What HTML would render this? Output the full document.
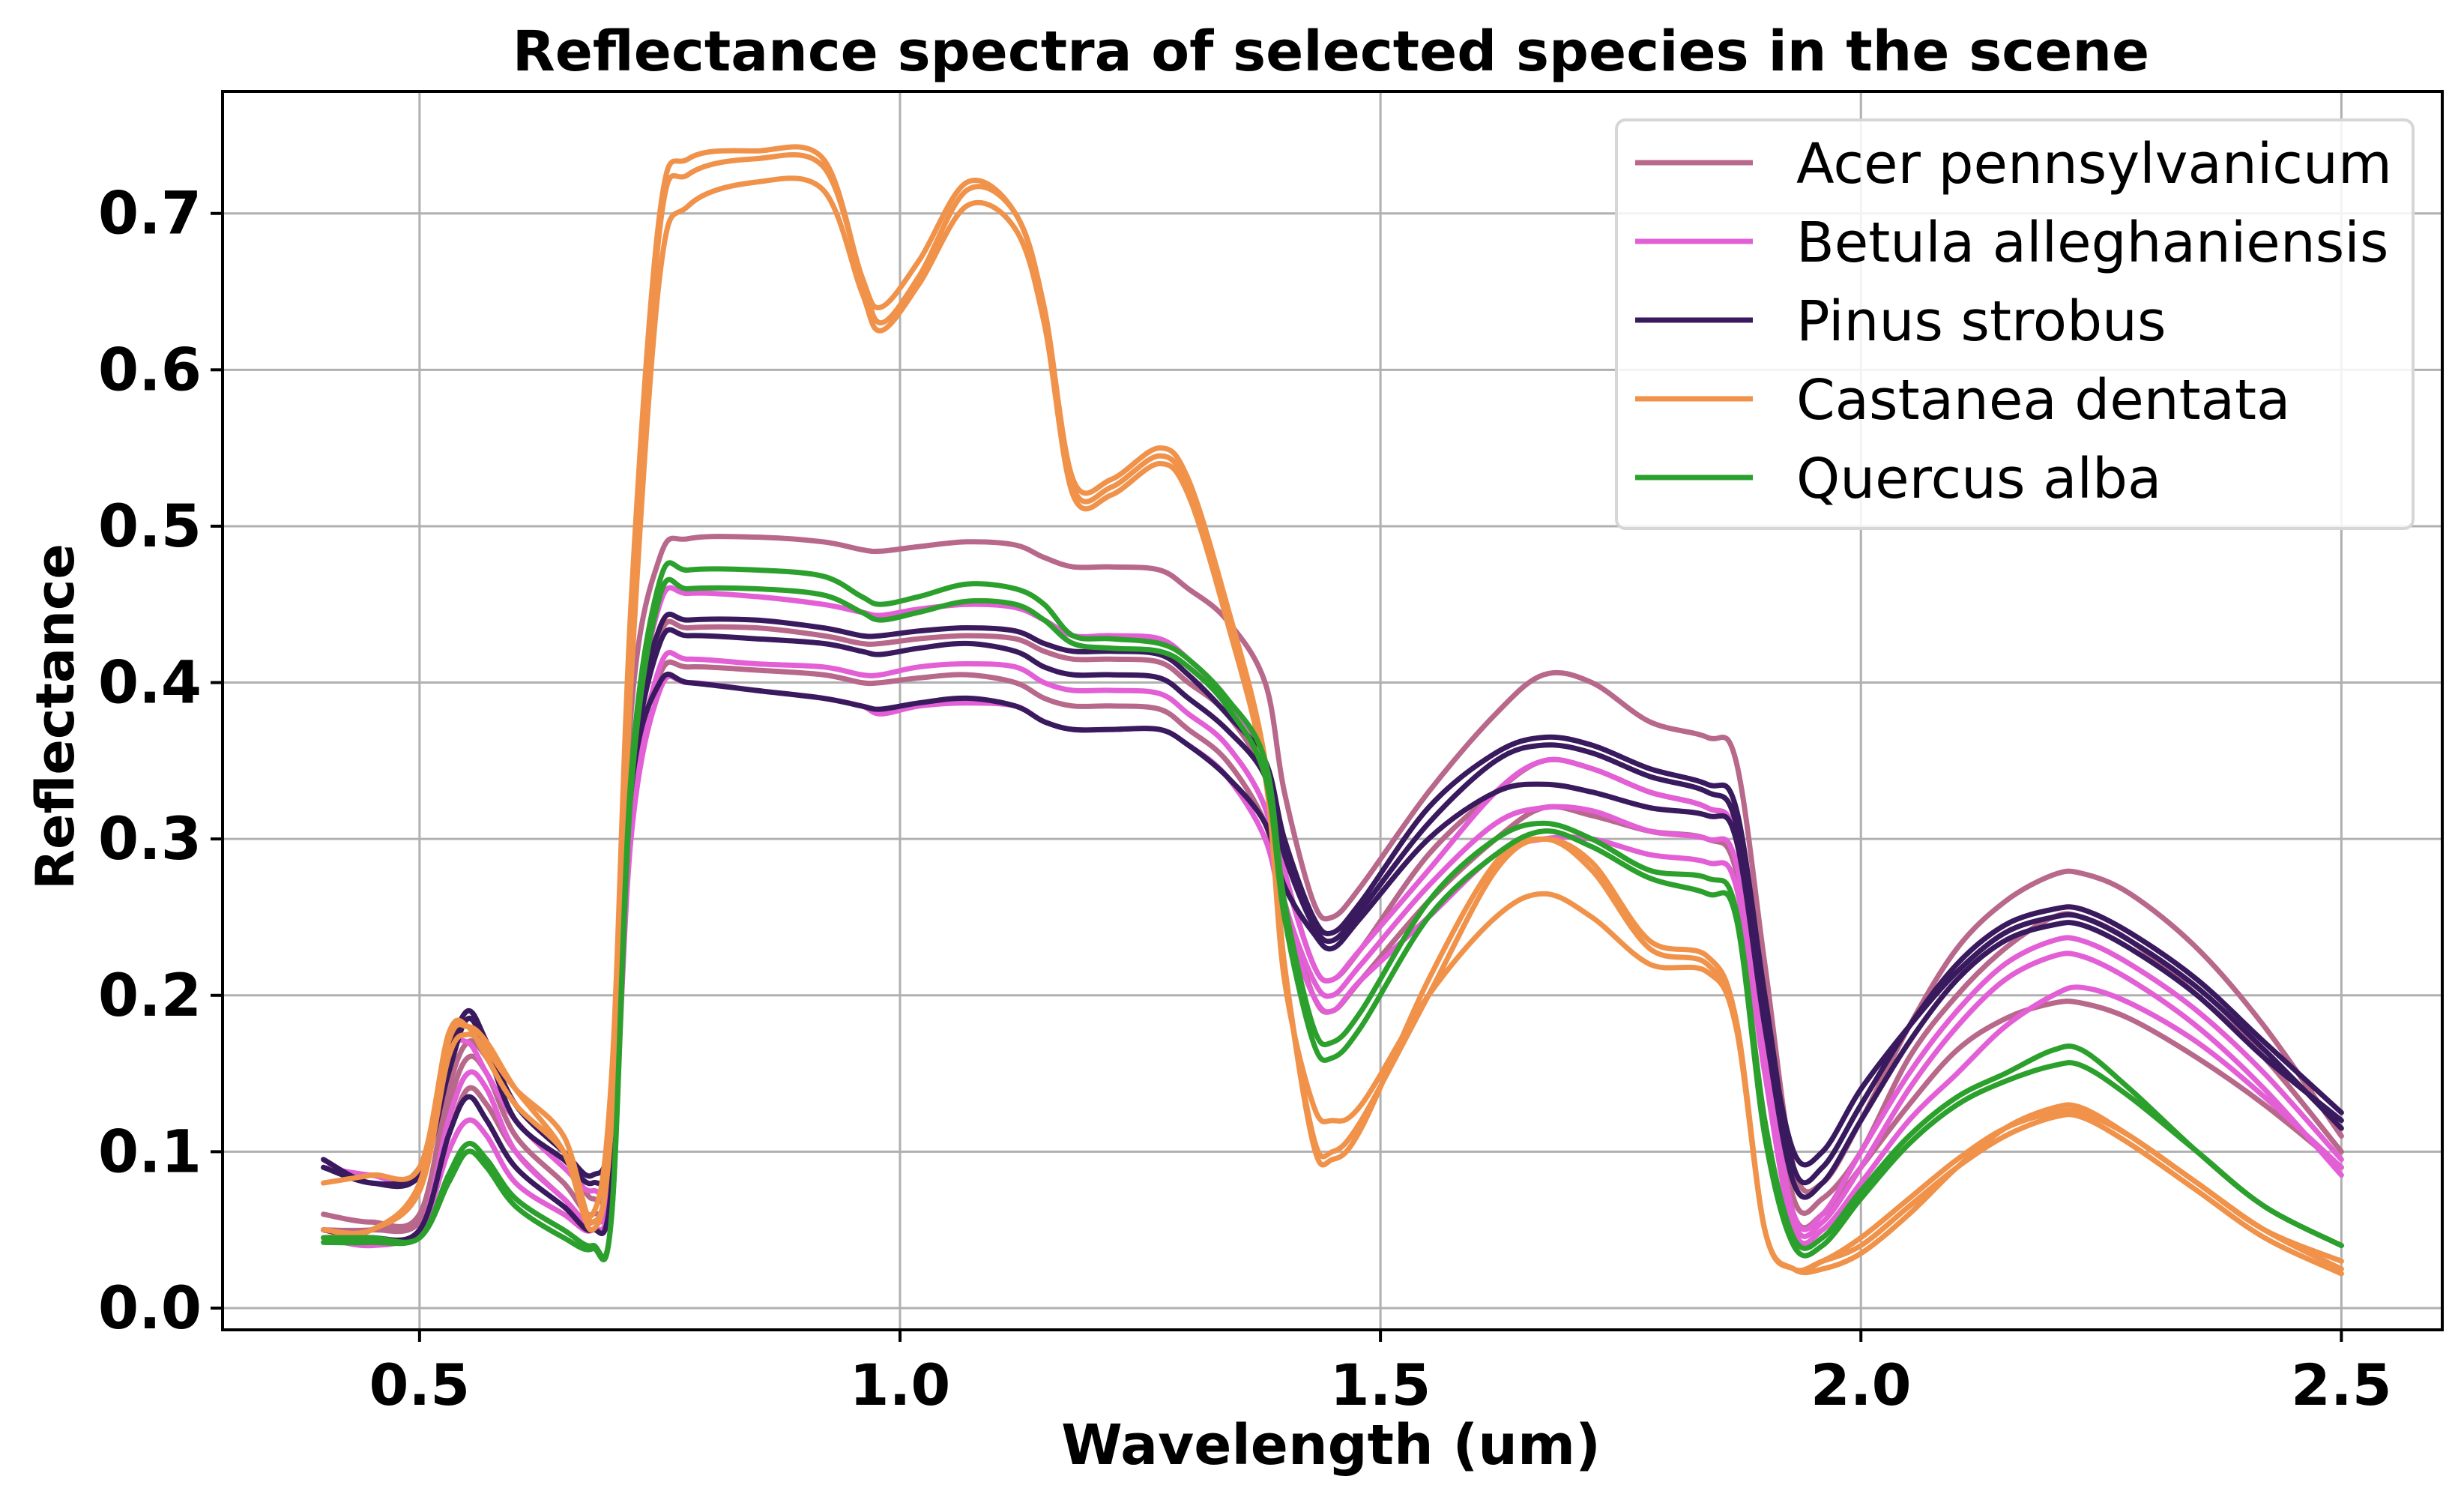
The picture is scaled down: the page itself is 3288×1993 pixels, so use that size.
<!DOCTYPE html>
<html><head><meta charset="utf-8"><style>
html,body{margin:0;padding:0;background:#fff;}
svg{display:block;font-family:"DejaVu Sans","Liberation Sans",sans-serif;}
</style></head><body>
<svg id="chart" width="3288" height="1993" viewBox="0 0 3288 1993" xmlns="http://www.w3.org/2000/svg">
<rect width="3288" height="1993" fill="#fff"/>
<g id="grid"></g>
<g id="series"></g>
<rect x="297" y="122" width="2962" height="1652" fill="none" stroke="#000" stroke-width="4"/>
<g id="ticks"></g>
<text x="1776" y="94" text-anchor="middle" font-size="74" font-weight="bold">Reflectance spectra of selected species in the scene</text>
<text x="1776" y="1953" text-anchor="middle" font-size="74" font-weight="bold">Wavelength (um)</text>
<text x="0" y="0" transform="translate(98,956) rotate(-90)" text-anchor="middle" font-size="70" font-weight="bold">Reflectance</text>
<g>
<rect x="2157" y="160" width="1063" height="545" rx="12" fill="#fff" fill-opacity="0.85" stroke="#d6d6d6" stroke-width="4"/>
<g id="legend-items"></g>
</g>
</svg>
<script>
const wavelengths=[0.40,0.45,0.50,0.53,0.55,0.57,0.60,0.65,0.68,0.70,0.72,0.75,0.78,0.85,0.92,0.96,0.98,1.02,1.07,1.12,1.15,1.18,1.22,1.27,1.30,1.34,1.38,1.40,1.43,1.45,1.48,1.55,1.62,1.67,1.72,1.78,1.84,1.87,1.90,1.93,1.96,2.00,2.05,2.10,2.15,2.20,2.23,2.28,2.35,2.42,2.50];
const speciesNames=["Acer pennsylvanicum","Betula alleghaniensis","Pinus strobus","Castanea dentata","Quercus alba"];
const xTicks=[0.5,1.0,1.5,2.0,2.5];
const xTickLabels=["0.5","1.0","1.5","2.0","2.5"];
const yTicks=[0.0,0.1,0.2,0.3,0.4,0.5,0.6,0.7];
const yTickLabels=["0.0","0.1","0.2","0.3","0.4","0.5","0.6","0.7"];
const acer1=[0.05,0.05,0.06,0.13,0.16,0.15,0.11,0.08,0.06,0.10,0.38,0.48,0.492,0.493,0.49,0.485,0.484,0.487,0.49,0.488,0.48,0.474,0.474,0.472,0.46,0.44,0.40,0.33,0.26,0.25,0.27,0.33,0.38,0.405,0.40,0.375,0.365,0.35,0.22,0.09,0.08,0.12,0.18,0.23,0.26,0.277,0.278,0.265,0.23,0.18,0.11];
const acer2=[0.06,0.055,0.06,0.14,0.17,0.16,0.13,0.10,0.07,0.10,0.33,0.43,0.435,0.435,0.43,0.425,0.425,0.428,0.43,0.428,0.42,0.415,0.415,0.413,0.40,0.38,0.34,0.28,0.22,0.21,0.23,0.29,0.33,0.35,0.345,0.33,0.32,0.30,0.18,0.07,0.07,0.10,0.16,0.20,0.23,0.25,0.25,0.235,0.20,0.16,0.10];
const acer3=[0.05,0.05,0.055,0.11,0.14,0.13,0.10,0.07,0.055,0.09,0.32,0.405,0.41,0.408,0.405,0.40,0.40,0.403,0.405,0.40,0.39,0.385,0.385,0.383,0.37,0.35,0.31,0.26,0.20,0.19,0.21,0.26,0.30,0.32,0.315,0.305,0.30,0.28,0.16,0.06,0.06,0.09,0.13,0.165,0.185,0.195,0.195,0.185,0.16,0.13,0.09];
const betula1=[0.045,0.04,0.05,0.10,0.12,0.11,0.08,0.06,0.05,0.08,0.30,0.395,0.40,0.395,0.39,0.385,0.38,0.385,0.387,0.385,0.375,0.37,0.37,0.37,0.36,0.34,0.30,0.25,0.20,0.19,0.21,0.25,0.29,0.30,0.30,0.29,0.285,0.27,0.15,0.05,0.05,0.08,0.12,0.15,0.18,0.20,0.205,0.195,0.17,0.135,0.09];
const betula2=[0.05,0.045,0.05,0.12,0.15,0.14,0.10,0.07,0.055,0.09,0.34,0.45,0.457,0.455,0.45,0.445,0.443,0.447,0.45,0.448,0.44,0.43,0.43,0.428,0.415,0.39,0.35,0.28,0.22,0.21,0.23,0.28,0.33,0.35,0.345,0.33,0.32,0.30,0.17,0.06,0.06,0.10,0.15,0.19,0.22,0.235,0.235,0.22,0.19,0.15,0.095];
const betula3=[0.09,0.085,0.085,0.16,0.17,0.15,0.12,0.09,0.075,0.10,0.31,0.41,0.415,0.412,0.41,0.405,0.405,0.41,0.412,0.41,0.40,0.395,0.395,0.393,0.38,0.36,0.32,0.26,0.21,0.20,0.22,0.27,0.31,0.32,0.318,0.305,0.30,0.285,0.16,0.055,0.055,0.09,0.14,0.18,0.21,0.225,0.225,0.21,0.18,0.14,0.085];
const pinus1=[0.095,0.08,0.09,0.16,0.19,0.17,0.13,0.10,0.085,0.12,0.33,0.40,0.40,0.395,0.39,0.385,0.383,0.387,0.39,0.385,0.375,0.37,0.37,0.37,0.36,0.34,0.31,0.27,0.24,0.23,0.25,0.30,0.33,0.335,0.33,0.32,0.315,0.30,0.18,0.08,0.08,0.12,0.17,0.21,0.235,0.245,0.245,0.23,0.20,0.16,0.12];
const pinus2=[0.05,0.045,0.05,0.11,0.135,0.12,0.09,0.065,0.05,0.08,0.34,0.435,0.44,0.44,0.435,0.43,0.43,0.433,0.435,0.433,0.425,0.42,0.42,0.418,0.405,0.38,0.35,0.30,0.25,0.24,0.26,0.32,0.355,0.365,0.36,0.345,0.335,0.32,0.20,0.09,0.09,0.13,0.18,0.22,0.245,0.255,0.255,0.24,0.21,0.17,0.125];
const pinus3=[0.09,0.08,0.085,0.15,0.185,0.165,0.12,0.095,0.08,0.11,0.33,0.425,0.43,0.428,0.425,0.42,0.418,0.422,0.425,0.42,0.41,0.405,0.405,0.403,0.39,0.37,0.34,0.29,0.245,0.235,0.255,0.31,0.35,0.36,0.355,0.34,0.33,0.31,0.19,0.10,0.10,0.14,0.18,0.215,0.24,0.25,0.25,0.235,0.205,0.165,0.115];
const castanea1=[0.08,0.085,0.09,0.175,0.18,0.16,0.13,0.10,0.06,0.15,0.45,0.70,0.735,0.74,0.735,0.66,0.64,0.67,0.72,0.70,0.64,0.53,0.53,0.55,0.53,0.45,0.35,0.22,0.11,0.10,0.12,0.20,0.28,0.30,0.28,0.23,0.22,0.18,0.05,0.025,0.025,0.035,0.06,0.09,0.115,0.128,0.128,0.11,0.08,0.05,0.025];
const castanea2=[0.05,0.05,0.08,0.17,0.18,0.17,0.14,0.10,0.05,0.12,0.40,0.66,0.705,0.72,0.715,0.65,0.625,0.655,0.705,0.69,0.63,0.52,0.52,0.54,0.52,0.44,0.34,0.21,0.13,0.12,0.13,0.20,0.25,0.265,0.25,0.22,0.215,0.18,0.05,0.025,0.03,0.045,0.07,0.095,0.115,0.125,0.125,0.11,0.08,0.05,0.03];
const castanea3=[0.045,0.05,0.075,0.16,0.175,0.165,0.14,0.11,0.055,0.12,0.42,0.69,0.725,0.735,0.73,0.66,0.63,0.66,0.715,0.70,0.64,0.525,0.525,0.545,0.525,0.45,0.35,0.22,0.105,0.095,0.115,0.21,0.285,0.30,0.285,0.235,0.225,0.185,0.05,0.025,0.03,0.04,0.065,0.09,0.11,0.122,0.122,0.105,0.075,0.045,0.022];
const quercus1=[0.042,0.042,0.045,0.08,0.10,0.09,0.065,0.045,0.038,0.06,0.34,0.465,0.472,0.472,0.468,0.455,0.45,0.455,0.463,0.46,0.45,0.43,0.428,0.425,0.415,0.39,0.35,0.26,0.18,0.17,0.19,0.26,0.30,0.31,0.30,0.28,0.275,0.255,0.12,0.045,0.045,0.075,0.11,0.135,0.15,0.165,0.165,0.14,0.10,0.065,0.04];
const quercus2=[0.045,0.045,0.045,0.085,0.105,0.095,0.07,0.05,0.04,0.06,0.33,0.455,0.46,0.46,0.456,0.445,0.44,0.445,0.452,0.45,0.44,0.425,0.422,0.42,0.41,0.385,0.34,0.25,0.17,0.16,0.18,0.25,0.29,0.305,0.295,0.275,0.265,0.25,0.11,0.04,0.04,0.07,0.105,0.13,0.145,0.155,0.155,0.135,0.10,0.065,0.04];

const colors=["#b8688a","#e35fd6","#3a1a5e","#f0924a","#2ca02c"];
const groups=[[acer1,acer2,acer3],[betula1,betula2,betula3],[pinus1,pinus2,pinus3],[castanea1,castanea2,castanea3],[quercus1,quercus2]];
const NS="http://www.w3.org/2000/svg";
const X0=297,X1=3259,Y0=1774,Y1=122,XMIN=0.295,XMAX=2.605,YMIN=-0.0139,YMAX=0.778;
function xs(v){return X0+(v-XMIN)/(XMAX-XMIN)*(X1-X0);}
function ys(v){return Y0-(v-YMIN)/(YMAX-YMIN)*(Y0-Y1);}
function mk(tag,attrs,parent){const e=document.createElementNS(NS,tag);for(const k in attrs)e.setAttribute(k,attrs[k]);parent.appendChild(e);return e;}
const grid=document.getElementById('grid'),ticks=document.getElementById('ticks');
xTicks.forEach((t,i)=>{
  const g=mk('line',{x1:xs(t),x2:xs(t),y1:Y1,y2:Y0,stroke:'#b0b0b0','stroke-width':3},grid);
  
  
  const tk=mk('line',{x1:xs(t),x2:xs(t),y1:Y0,y2:Y0+16,stroke:'#000','stroke-width':4},ticks);
  
  
  const tx=mk('text',{x:xs(t),y:Y0+100,'text-anchor':'middle','font-size':76,'font-weight':'bold'},ticks);
  tx.textContent=xTickLabels[i];
  
  
});
yTicks.forEach((t,i)=>{
  const g=mk('line',{x1:X0,x2:X1,y1:ys(t),y2:ys(t),stroke:'#b0b0b0','stroke-width':3},grid);
  
  
  const tk=mk('line',{x1:X0-16,x2:X0,y1:ys(t),y2:ys(t),stroke:'#000','stroke-width':4},ticks);
  
  
  const tx=mk('text',{x:X0-28,y:ys(t)+27,'text-anchor':'end','font-size':78,'font-weight':'bold'},ticks);
  tx.textContent=yTickLabels[i];
  
  
});
function pathFor(vals){
  const p=wavelengths.map((w,i)=>[xs(w),ys(vals[i])]);
  let d='M'+p[0][0].toFixed(1)+','+p[0][1].toFixed(1);
  for(let i=0;i<p.length-1;i++){
    const a=p[Math.max(0,i-1)],b=p[i],c=p[i+1],e=p[Math.min(p.length-1,i+2)];
    const c1=[b[0]+(c[0]-a[0])/6,b[1]+(c[1]-a[1])/6],c2=[c[0]-(e[0]-b[0])/6,c[1]-(e[1]-b[1])/6];
    d+=' C'+c1[0].toFixed(1)+','+c1[1].toFixed(1)+' '+c2[0].toFixed(1)+','+c2[1].toFixed(1)+' '+c[0].toFixed(1)+','+c[1].toFixed(1);
  }
  return d;
}
const sg=document.getElementById('series');
groups.forEach((grp,si)=>{
  grp.forEach(vals=>{
    const el=mk('path',{d:pathFor(vals),fill:'none',stroke:colors[si],'stroke-width':7,'stroke-linejoin':'round','stroke-linecap':'round'},sg);
    
    
  });
});
const lg=document.getElementById('legend-items');
speciesNames.forEach((n,i)=>{
  const y=217+i*105;
  const l=mk('line',{x1:2182,x2:2339,y1:y,y2:y,stroke:colors[i],'stroke-width':7},lg);
  
  
  const t=mk('text',{x:2397,y:y+27,'font-size':74},lg);
  t.textContent=n;
  
  
});
</script>
</body></html>
